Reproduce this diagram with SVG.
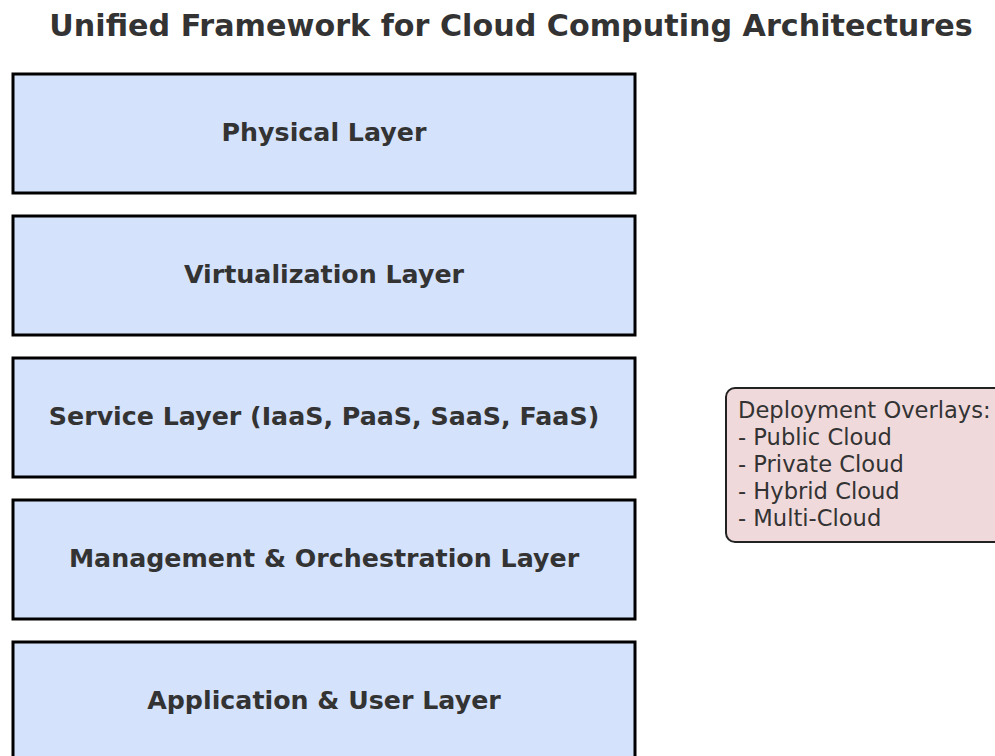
<svg xmlns="http://www.w3.org/2000/svg" width="995" height="756" viewBox="0 0 995 756">
  <style>
    .layer rect { fill: #d4e2fb; stroke: #000; stroke-width: 3; }
    .layer text { font-family: "DejaVu Sans", sans-serif; font-weight: bold; font-size: 25.3px; fill: #333; text-anchor: middle; }
    .title { font-family: "DejaVu Sans", sans-serif; font-weight: bold; font-size: 30.2px; fill: #333; text-anchor: middle; }
    .overlay rect { fill: #f0d9db; stroke: #222; stroke-width: 2; }
    .overlay text { font-family: "DejaVu Sans", sans-serif; font-size: 22.6px; fill: #333; }
  </style>
  <rect width="995" height="756" fill="#fff"/>
  <text class="title" x="511" y="36">Unified Framework for Cloud Computing Architectures</text>

  <g id="physical" class="layer">
    <rect x="13" y="74" width="622" height="119"/>
    <text x="324" y="141">Physical Layer</text>
  </g>
  <g id="virtualization" class="layer">
    <rect x="13" y="216" width="622" height="119"/>
    <text x="324" y="283">Virtualization Layer</text>
  </g>
  <g id="service" class="layer">
    <rect x="13" y="358" width="622" height="119"/>
    <text x="324" y="425">Service Layer (IaaS, PaaS, SaaS, FaaS)</text>
  </g>
  <g id="management" class="layer">
    <rect x="13" y="500" width="622" height="119"/>
    <text x="324" y="567">Management &amp; Orchestration Layer</text>
  </g>
  <g id="application" class="layer">
    <rect x="13" y="642" width="622" height="130"/>
    <text x="324" y="709">Application &amp; User Layer</text>
  </g>

  <g id="deployment-overlays" class="overlay">
    <rect x="726" y="388" width="290" height="154" rx="9"/>
    <text x="738" y="418">Deployment Overlays:</text>
    <text x="738" y="445">- Public Cloud</text>
    <text x="738" y="472">- Private Cloud</text>
    <text x="738" y="499">- Hybrid Cloud</text>
    <text x="738" y="526">- Multi-Cloud</text>
  </g>

  <g id="connectors"></g>
</svg>
